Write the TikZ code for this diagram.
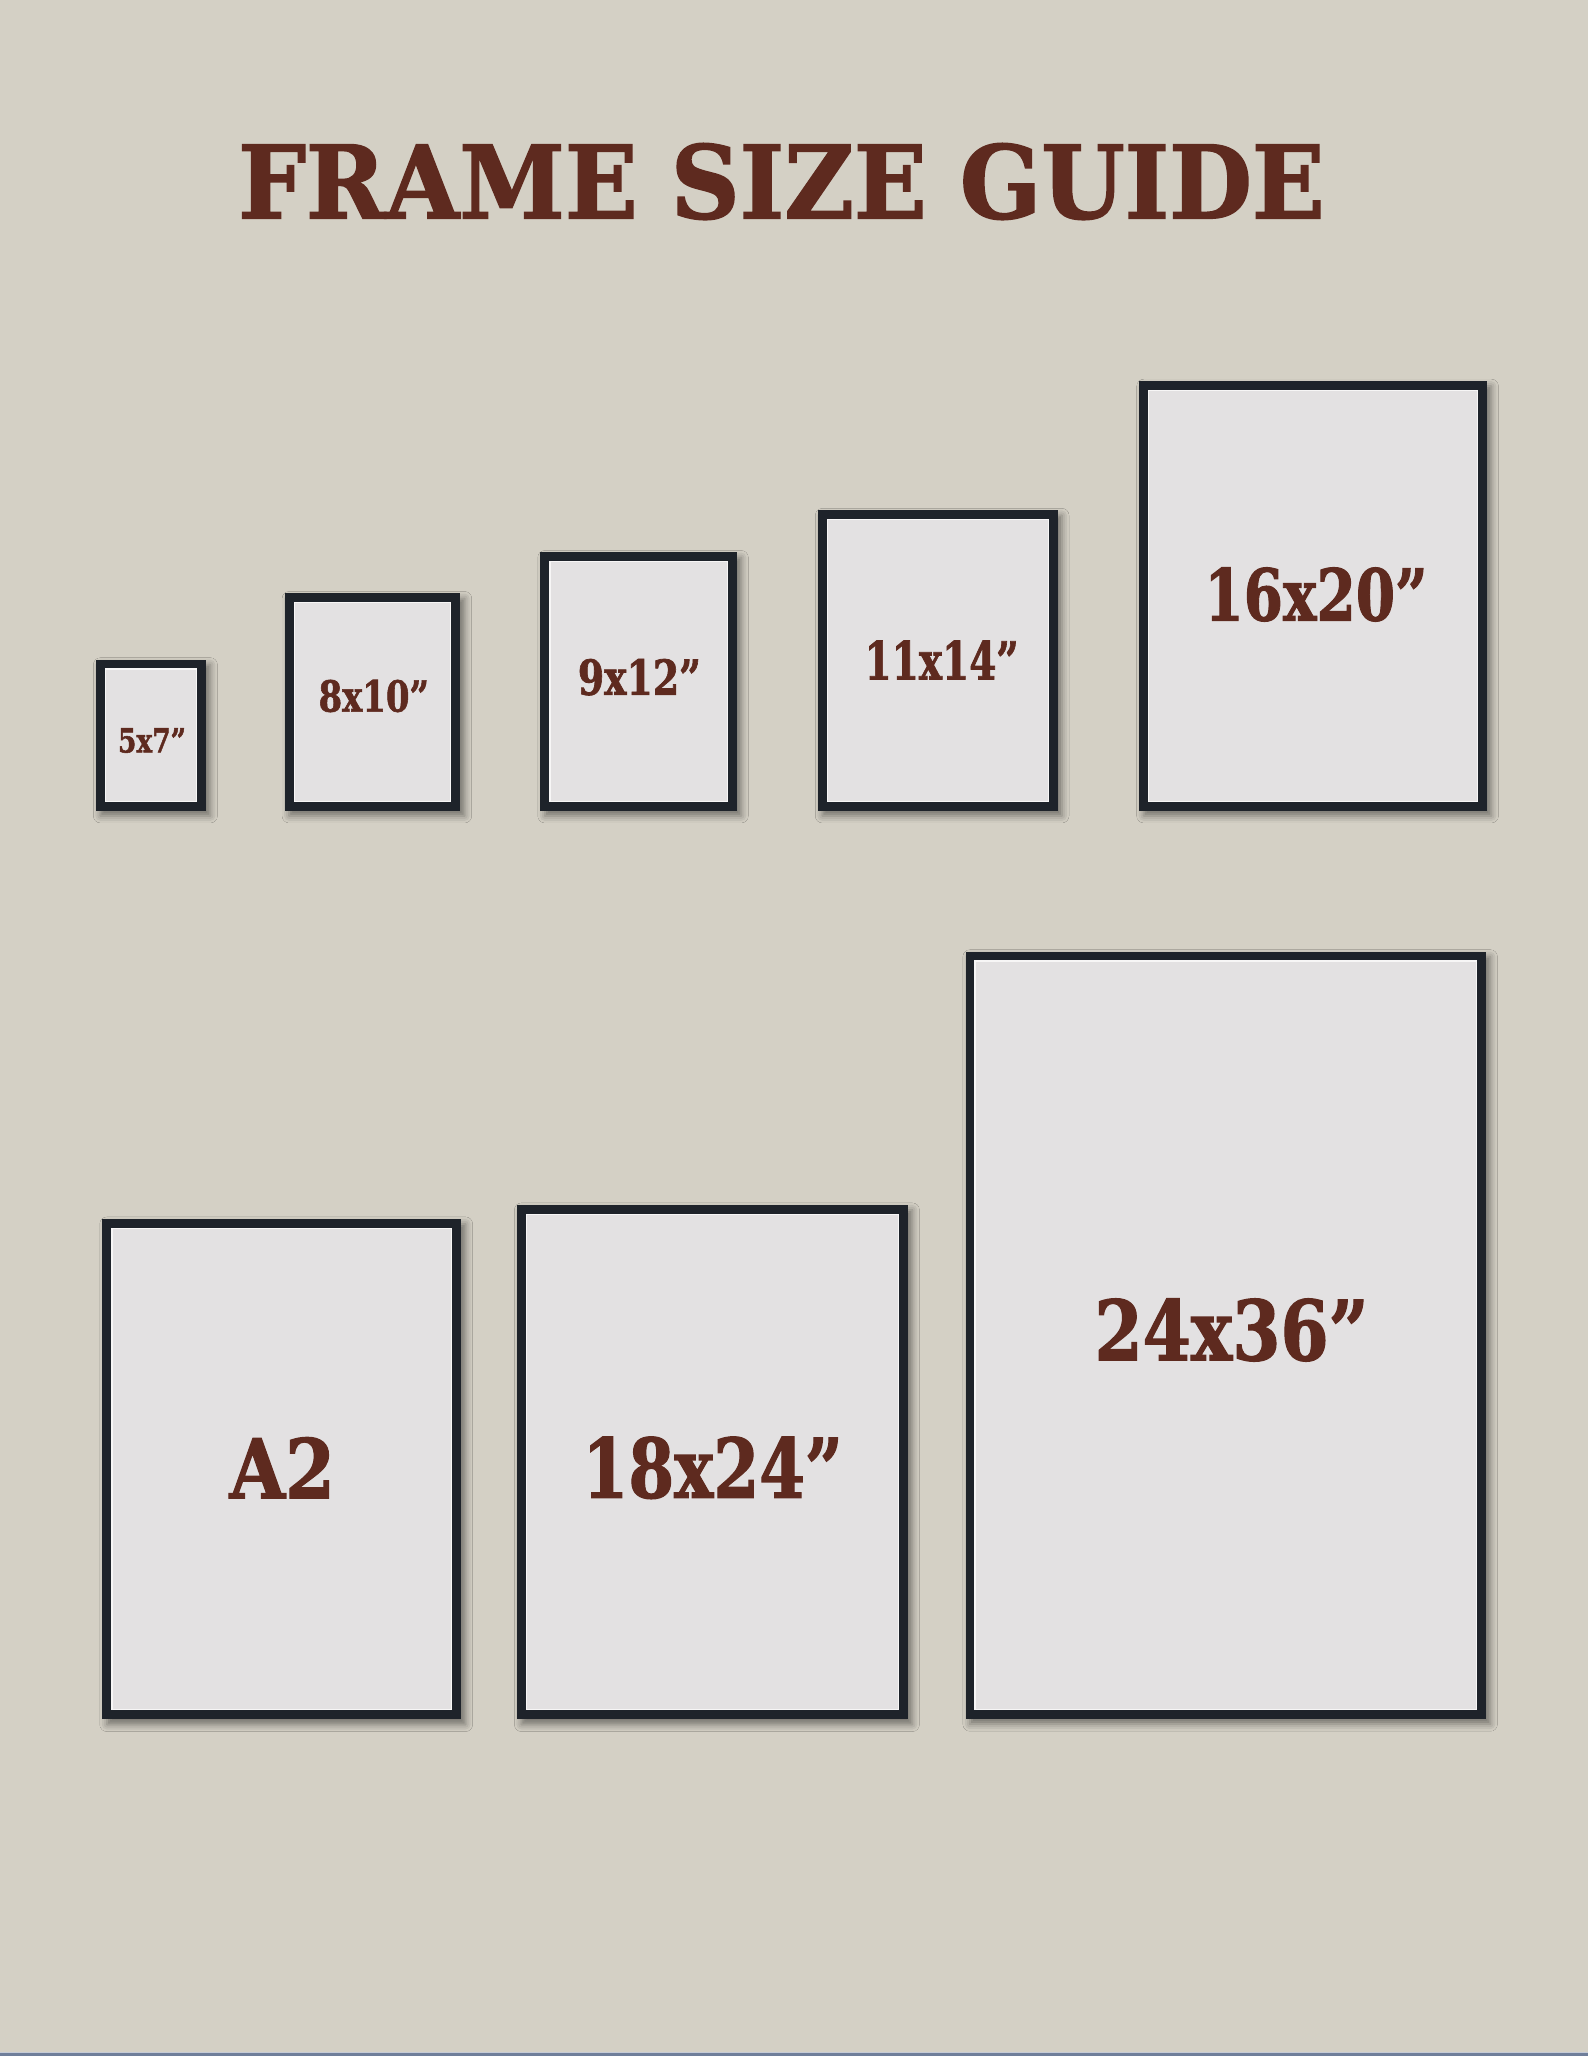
\documentclass[tikz,border=0pt]{standalone}
\usepackage{fontspec}
\setmainfont{DejaVu Serif}[BoldFeatures={FakeBold=1.6}]
\usepackage{graphicx}
\usetikzlibrary{shadows.blur}
\definecolor{bg}{HTML}{D4D0C5}
\definecolor{framec}{HTML}{1E232A}
\definecolor{matc}{HTML}{E3E1E2}
\definecolor{ink}{HTML}{5E2A1F}
\definecolor{edgeblue}{HTML}{6F7E9A}
\tikzset{
  framefill/.style={fill=framec, blur shadow={shadow xshift=2.2pt, shadow yshift=-2.6pt, shadow blur radius=3.5pt, shadow opacity=45}},
  matfill/.style={fill=matc, draw=white!70!matc, line width=0.6pt},
  lbl/.style={inner sep=0pt, text=ink, font=\bfseries},
  ttl/.style={inner sep=0pt, text=ink, font=\bfseries, anchor=base}
}
\newcommand\pframe[5]{%
  \path[framefill] (#2,#3) rectangle (#4,#5);
  \path[matfill] ({#2+9.5},{#3+9.5}) rectangle ({#4-9.5},{#5-9.5});
  \coordinate (#1) at ({(#2+#4)/2},{(#3+#5)/2});
}
\begin{document}
\begin{tikzpicture}[x=0.5pt,y=-0.5pt]
\fill[bg] (0,0) rectangle (1588,2056);
\useasboundingbox (0,0) rectangle (1588,2056);
\fill[edgeblue] (0,2052.5) rectangle (1588,2056);
\fill[white!60!edgeblue] (0,2051.5) rectangle (1588,2052.5);

% title
\node[ttl] (title) at (781.5,218.3) {\resizebox{543.2pt}{37.5pt}{FRAME SIZE GUIDE}};

% top row
\pframe{f57}{96}{659.5}{206}{810.7}
\pframe{f810}{284.7}{593.3}{460.3}{810.7}
\pframe{f912}{540.4}{552.3}{736.9}{810.7}
\pframe{f1114}{817.9}{510.2}{1057.6}{810.7}
\pframe{f1620}{1139.3}{381}{1487}{810.7}
% bottom row
\pframe{fa2}{102.4}{1218.7}{461.2}{1719.3}
\pframe{f1824}{517}{1204.7}{908}{1719.3}
\pframe{f2436}{965.5}{951.5}{1486}{1719}

% labels
\node[lbl] (l57) at (152,740.5) {\resizebox{34pt}{12.2pt}{5x7”}};
\node[lbl] (l810) at (373.8,696) {\resizebox{55.2pt}{15.9pt}{8x10”}};
\node[lbl] (l912) at (639.4,677.2) {\resizebox{61.5pt}{17.9pt}{9x12”}};
\node[lbl] (l1114) at (941.7,660) {\resizebox{77pt}{19.4pt}{11x14”}};
\node[lbl] (l1620) at (1316,594.5) {\resizebox{111.5pt}{26.5pt}{16x20”}};
\node[lbl] (la2) at (282.3,1467.8) {\resizebox{52.8pt}{30.5pt}{A2}};
\node[lbl] (l1824) at (712.7,1467.8) {\resizebox{130pt}{30.5pt}{18x24”}};
\node[lbl] (l2436) at (1231.5,1330) {\resizebox{137pt}{30.8pt}{24x36”}};
\end{tikzpicture}
\end{document}
